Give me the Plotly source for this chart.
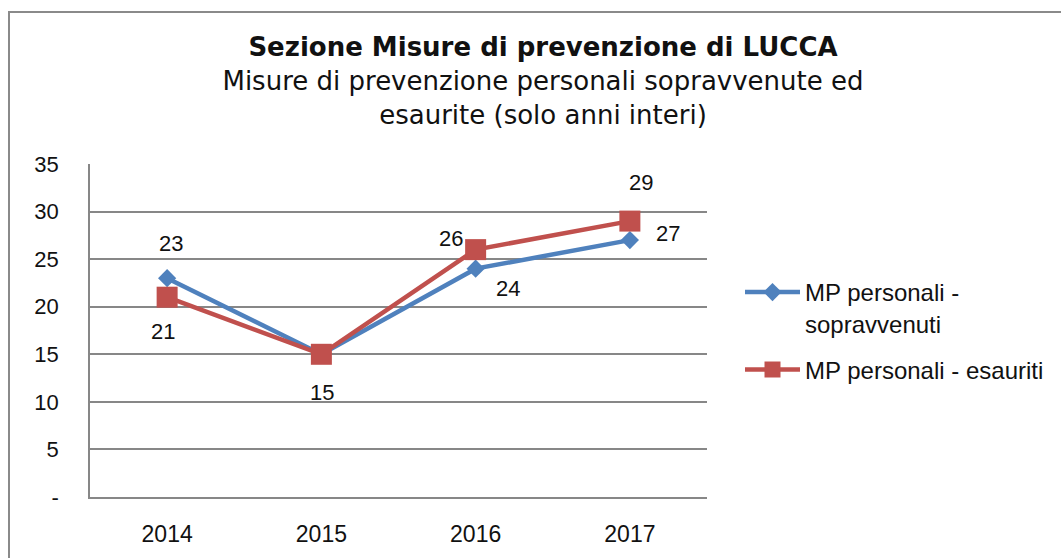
import plotly.graph_objects as go

years = ["2014", "2015", "2016", "2017"]
sopravvenuti = [23, 15, 24, 27]
esauriti = [21, 15, 26, 29]
name_sopr = "MP personali -<br>sopravvenuti"
name_esau = "MP personali - esauriti"
# data labels (the 2015 label of the first series is hidden behind the other one in the original)
labels_sopr = ["23", "", "24", "27"]
labels_esau = ["21", "15", "26", "29"]
# label offsets in pixels (dx, dy screen)
off_sopr = [(4, -35), (0, 38), (32, 20), (38, -7)]
off_esau = [(-4, 34), (1, 38), (-25, -11), (11, -39)]
y_ticks = [0, 5, 10, 15, 20, 25, 30, 35]
y_ticktext = ["-", "5", "10", "15", "20", "25", "30", "35"]

BLUE = "#4F81BD"
RED = "#C0504D"
GRID = "#878787"
FONT = "Liberation Sans"
TXT = "#111111"

fig = go.Figure()
fig.add_trace(go.Scatter(
    x=years, y=sopravvenuti, name=name_sopr, mode="lines+markers",
    legendgroup="a",
    line=dict(color=BLUE, width=4.5),
    marker=dict(symbol="diamond", size=14, color=BLUE),
    cliponaxis=False,
))
fig.add_trace(go.Scatter(
    x=years, y=esauriti, name=name_esau, mode="lines+markers",
    legendgroup="b",
    line=dict(color=RED, width=4.5),
    marker=dict(symbol="square", size=21, color=RED),
    cliponaxis=False,
))

annotations = []
for ys, labs, offs in [(sopravvenuti, labels_sopr, off_sopr),
                       (esauriti, labels_esau, off_esau)]:
    for i, (y, t, (dx, dy)) in enumerate(zip(ys, labs, offs)):
        if not t:
            continue
        annotations.append(dict(
            x=i, y=y, xref="x", yref="y", text=t, showarrow=False,
            xshift=dx, yshift=-dy, xanchor="center", yanchor="middle",
            font=dict(family=FONT, size=22, color=TXT),
        ))

L, R, T, B = 90, 354, 164, 61
W, H = 1061 - L - R, 558 - T - B

fig.update_layout(
    width=1061, height=558,
    margin=dict(l=L, r=R, t=T, b=B, autoexpand=False),
    paper_bgcolor="white", plot_bgcolor="white",
    font=dict(family=FONT, size=22, color=TXT),
    title=dict(
        text="<b>Sezione Misure di prevenzione di LUCCA</b><br>"
             "Misure di prevenzione personali sopravvenute ed<br>esaurite (solo anni interi)",
        x=543 / 1061, xanchor="center", xref="container",
        y=1 - 56 / 558, yanchor="top", yref="container",
        font=dict(family="DejaVu Sans", size=26, color=TXT),
    ),
    showlegend=True,
    legend=dict(
        x=(740 - L) / W, xanchor="left", y=(497 - 270) / H, yanchor="top",
        font=dict(family=FONT, size=24, color=TXT),
        itemwidth=55, tracegroupgap=12, valign="top",
        bgcolor="rgba(0,0,0,0)",
    ),
    xaxis=dict(
        type="category", range=[-0.5, 3.5], automargin=False,
        showgrid=False, showline=True, linecolor=GRID, linewidth=1.5,
        ticks="", ticklabelstandoff=16,
        tickfont=dict(family=FONT, size=23, color=TXT),
    ),
    yaxis=dict(
        range=[0, 35], tickvals=y_ticks, ticktext=y_ticktext, automargin=False,
        showgrid=True, gridcolor=GRID, gridwidth=1.5,
        showline=True, linecolor=GRID, linewidth=1.5,
        zeroline=False, ticks="", ticklabelstandoff=25,
        tickfont=dict(family=FONT, size=22, color=TXT),
    ),
    annotations=annotations,
    shapes=[dict(
        type="rect", xref="paper", yref="paper",
        x0=(9 - L) / W, x1=(1100 - L) / W,
        y0=(497 - 600) / H, y1=(497 - 12) / H,
        line=dict(color="#8a8a8a", width=2), fillcolor="rgba(0,0,0,0)",
        layer="below",
    )],
)

fig.write_html(
    "out.html",
    config={"displayModeBar": False},
    post_script="document.body.style.margin='0';document.body.style.overflow='hidden';",
)
